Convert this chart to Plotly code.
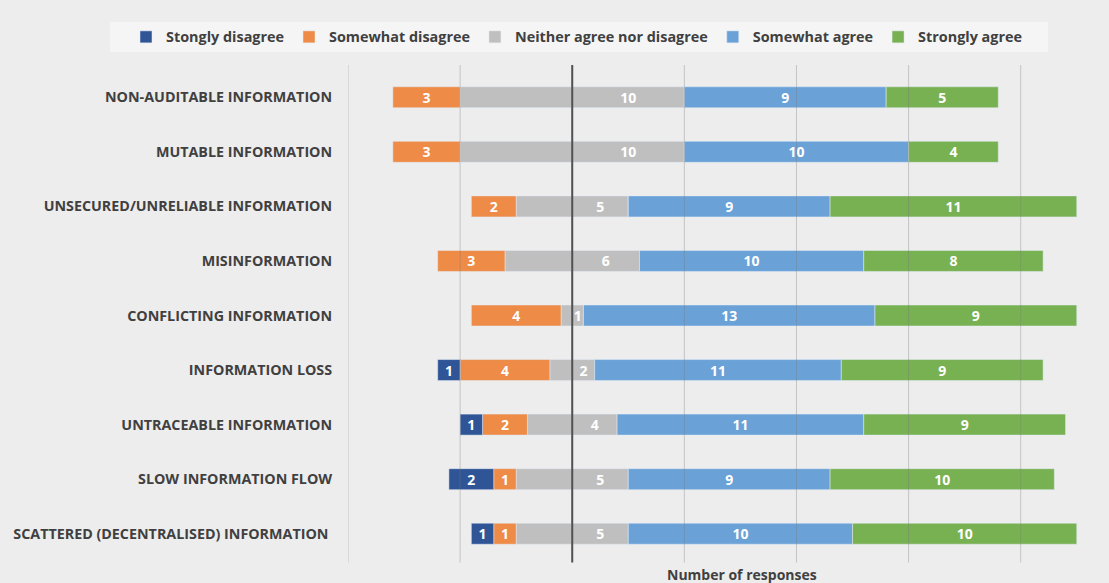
import plotly.graph_objects as go

categories = [
    "NON-AUDITABLE INFORMATION",
    "MUTABLE INFORMATION",
    "UNSECURED/UNRELIABLE INFORMATION",
    "MISINFORMATION",
    "CONFLICTING INFORMATION",
    "INFORMATION LOSS",
    "UNTRACEABLE INFORMATION",
    "SLOW INFORMATION FLOW",
    "SCATTERED (DECENTRALISED) INFORMATION ",
]
strongly_disagree = [0, 0, 0, 0, 0, 1, 1, 2, 1]
somewhat_disagree = [3, 3, 2, 3, 4, 4, 2, 1, 1]
neutral = [10, 10, 5, 6, 1, 2, 4, 5, 5]
somewhat_agree = [9, 10, 9, 10, 13, 11, 11, 9, 10]
strongly_agree = [5, 4, 11, 8, 9, 9, 9, 10, 10]
grid_vals = [-10, -5, 0, 5, 10, 15, 20]

C_SD = "#2F5597"
C_D = "#ED8B47"
C_N = "#BFBFBF"
C_A = "#6AA2D8"
C_SA = "#78B152"

W, H = 1109, 583
ML, MR, MT, MB = 348, 30, 70, 22
PW, PH = W - ML - MR, H - MT - MB


def lab(vals):
    return [str(v) if v else "" for v in vals]


txtfont = dict(family="Open Sans", size=14, color="white", weight="bold")
common = dict(orientation="h", y=categories, textposition="inside", textangle=0,
              insidetextanchor="middle", constraintext="none",
              textfont=txtfont, hoverinfo="skip")

fig = go.Figure()
fig.add_trace(go.Bar(x=[-v / 2 for v in neutral], marker_color=C_N, text=None,
                     showlegend=False, name="n_neg", **common))
fig.add_trace(go.Bar(x=[v / 2 for v in neutral], marker_color=C_N, text=lab(neutral),
                     name="Neither agree nor disagree", legendrank=3, **common))
fig.add_trace(go.Bar(x=[-v for v in somewhat_disagree], marker_color=C_D,
                     text=lab(somewhat_disagree), name="Somewhat disagree",
                     legendrank=2, **common))
fig.add_trace(go.Bar(x=[-v for v in strongly_disagree], marker_color=C_SD,
                     text=lab(strongly_disagree), name="Stongly disagree",
                     legendrank=1, **common))
fig.add_trace(go.Bar(x=somewhat_agree, marker_color=C_A, text=lab(somewhat_agree),
                     name="Somewhat agree", legendrank=4, **common))
fig.add_trace(go.Bar(x=strongly_agree, marker_color=C_SA, text=lab(strongly_agree),
                     name="Strongly agree", legendrank=5, **common))

for g in grid_vals:
    if g == 0:
        fig.add_shape(type="line", xref="x", yref="paper", x0=g, x1=g,
                      y0=-1.5 / PH, y1=1 + 5 / PH,
                      line=dict(color="#505050", width=2), layer="above")
    else:
        fig.add_shape(type="line", xref="x", yref="paper", x0=g, x1=g,
                      y0=-1.5 / PH, y1=1 + 5 / PH,
                      line=dict(color="rgba(120,120,120,0.35)", width=1), layer="above")

# legend background box (pixel box 110..1048 x 22..52)
fig.add_shape(type="rect", xref="paper", yref="paper",
              x0=(110 - ML) / PW, x1=(1048 - ML) / PW,
              y0=1 + (MT - 52) / PH, y1=1 + (MT - 22) / PH,
              fillcolor="#f5f5f5", line=dict(width=0), layer="below")

fig.add_annotation(text="Number of responses", xref="paper", yref="paper",
                   x=(742 - ML) / PW, y=0, yshift=-13, yanchor="middle", showarrow=False,
                   font=dict(family="Open Sans", size=14, color="#404040", weight="bold"))

fig.update_layout(
    width=W, height=H,
    barmode="relative", bargap=0.615,
    margin=dict(l=ML, r=MR, t=MT, b=MB, autoexpand=False),
    paper_bgcolor="#ededed", plot_bgcolor="rgba(0,0,0,0)",
    font=dict(family="Open Sans", color="#404040"),
    legend=dict(orientation="h", x=(126 - ML) / PW, xanchor="left",
                y=1 + (MT - 37) / PH, yanchor="middle",
                bgcolor="rgba(0,0,0,0)", traceorder="normal",
                font=dict(family="Open Sans", size=14.4, color="#404040", weight="bold"),
                itemclick=False),
    xaxis=dict(range=[-10, 22.6], tickvals=grid_vals, showticklabels=False,
               showgrid=False, zeroline=False, fixedrange=True),
    yaxis=dict(autorange="reversed", showgrid=False, ticks="outside", ticklen=12,
               tickcolor="rgba(0,0,0,0)",
               tickfont=dict(family="Open Sans", size=14.3, color="#404040", weight="bold")),
)

fig.write_html("out.html", config={"displayModeBar": False},
               post_script="document.body.style.margin='0';")
